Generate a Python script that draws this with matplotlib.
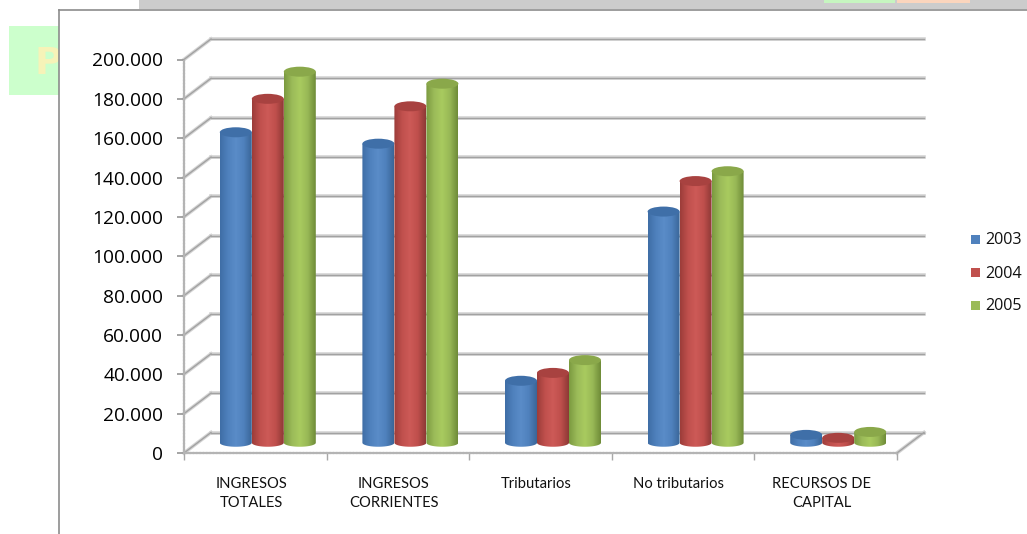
import numpy as np
import matplotlib
matplotlib.use("Agg")
import matplotlib.pyplot as plt
from matplotlib.colors import LinearSegmentedColormap
from matplotlib.patches import Ellipse, PathPatch, Rectangle
from matplotlib.path import Path
from matplotlib.ticker import FuncFormatter

categories = ["INGRESOS\nTOTALES", "INGRESOS\nCORRIENTES", "Tributarios",
              "No tributarios", "RECURSOS DE\nCAPITAL"]
years = ["2003", "2004", "2005"]
values_2003 = [157800, 152000, 31500, 117500, 4000]
values_2004 = [174800, 171000, 35500, 133000, 2500]
values_2005 = [188600, 182500, 42000, 138000, 5500]
y_ticks = list(range(0, 200001, 20000))

W, H = 1027, 534
fig = plt.figure(figsize=(W / 100, H / 100), dpi=100, facecolor="white")
plt.rcParams["font.family"] = ["Open Sans", "DejaVu Sans"]

# page furniture behind the chart frame, in pixels
page = fig.add_axes([0, 0, 1, 1])
page.set_xlim(0, W)
page.set_ylim(H, 0)
page.axis("off")
page.add_patch(Rectangle((139, 0), W - 139, 9, color="#cccccc", lw=0))
page.add_patch(Rectangle((824, 0), 71, 3, color="#c6f5c0", lw=0))
page.add_patch(Rectangle((897, 0), 73, 3, color="#fbd5bd", lw=0))
page.add_patch(Rectangle((9, 26), 50, 69, color="#ccffcc", lw=0))
page.text(34, 64, "P", fontsize=27, fontweight="bold", color="#f6f3b8",
          family="DejaVu Sans", ha="left", va="center", zorder=2)
page.add_patch(Rectangle((59, 9), W - 59, H - 9, color="white", lw=0, zorder=3))
page.plot([59, W], [9.5, 9.5], color="#8c8c8c", lw=1.2, zorder=4)
page.plot([59, 59], [9.5, H], color="#8c8c8c", lw=1.2, zorder=4)

# front plane of the chart: x in category units, y in value units
left, right, base, top = 184, 897, 453, 59.5
ax = fig.add_axes([left / W, 1 - base / H, (right - left) / W, (base - top) / H])
ax.set_xlim(0, 5)
ax.set_ylim(0, 200000)
ax.patch.set_alpha(0)

px_x = 5 / (right - left)
px_y = 200000 / (base - top)
depth_x = 27 * px_x
depth_y = 20.5 * px_y

# back wall, side wall and floor edges: soft grey under a thin darker core
for lw, color in [(2.6, "#d4d4d4"), (1.0, "#a2a2a2")]:
    for v in y_ticks:
        ax.plot([depth_x, 5 + depth_x], [v + depth_y] * 2, color=color, lw=lw,
                clip_on=False, zorder=1)
        ax.plot([0, depth_x], [v, v + depth_y], color=color, lw=lw,
                clip_on=False, zorder=1)
    ax.plot([5, 5 + depth_x], [0, depth_y], color=color, lw=lw, clip_on=False, zorder=1)

for s in ["top", "right"]:
    ax.spines[s].set_visible(False)
for s in ["left", "bottom"]:
    ax.spines[s].set_color("#b4b4b4")
    ax.spines[s].set_linewidth(1.6)
    ax.spines[s].set_linestyle((0, (1, 0.5)))

ax.set_yticks(y_ticks)
ax.yaxis.set_major_formatter(FuncFormatter(lambda v, _: f"{int(v):,}".replace(",", ".")))
ax.tick_params(axis="y", length=5, width=1.1, color="#8c8c8c", pad=10,
               labelsize=13.8, labelcolor="#000000")
ax.set_xticks(range(6))
ax.set_xticklabels([])
ax.set_xticks([i + 0.47 for i in range(5)], labels=categories, minor=True)
ax.tick_params(axis="x", which="major", length=5, width=1, color="#a8a8a8")
ax.tick_params(axis="x", which="minor", length=0, pad=17, labelsize=10.6, labelcolor="#111111")
for label in ax.get_xticklabels(minor=True):
    label.set_family("Lato")
    label.set_linespacing(1.45)

# cylinders: left edge to right edge shading, then the top cap colour
styles = [
    (["#3f6ea6", "#4f81bd", "#5a8cc8", "#4f81bd", "#3a6698"], "#3f6fa8"),
    (["#9c3d3a", "#c0504d", "#cd5a57", "#bf4f4c", "#8e3936"], "#a84240"),
    (["#7b9a40", "#9bbb59", "#a9cb5f", "#98b856", "#6f8c38"], "#8aa84a"),
]
bar_w = 32 * px_x
cap_h = 5 * px_y
theta = np.linspace(np.pi, 2 * np.pi, 40)

for j, vals in enumerate([values_2003, values_2004, values_2005]):
    cmap = LinearSegmentedColormap.from_list(years[j], styles[j][0])
    for i, v in enumerate(vals):
        cx = i + 0.5 + depth_x / 2 + (j - 1) * bar_w - 1 * px_x
        y0 = depth_y / 2
        y1 = y0 + v
        xs = cx + bar_w / 2 * np.cos(theta)
        ys = y0 + 0.8 * cap_h * np.sin(theta)
        verts = np.column_stack([np.r_[xs, cx + bar_w / 2, cx - bar_w / 2],
                                 np.r_[ys, y1, y1]])
        body = PathPatch(Path(np.vstack([verts, verts[0]]), closed=True),
                         fc="none", ec="none", transform=ax.transData)
        ax.add_patch(body)
        im = ax.imshow(np.linspace(0, 1, 64).reshape(1, -1), cmap=cmap, aspect="auto",
                       extent=[cx - bar_w / 2, cx + bar_w / 2, y0 - cap_h, y1],
                       zorder=3 + j * 0.1, clip_on=True)
        im.set_clip_path(body)
        ax.add_patch(Ellipse((cx, y1), bar_w, 2 * cap_h, fc=styles[j][1], ec="none",
                             clip_on=False, zorder=3.05 + j * 0.1))
ax.set_xlim(0, 5)
ax.set_ylim(0, 200000)

# legend drawn by hand so the swatches sit at the right of the frame
swatches = ["#4f81bd", "#c0504d", "#9bbb59"]
for year, color, y in zip(years, swatches, [239, 272, 305]):
    page.add_patch(Rectangle((971, y - 4.5), 9, 9, color=color, lw=0, zorder=5))
    page.text(985, y + 1.5, year, fontsize=11.6, color="#111111", va="center", ha="left", zorder=5)

fig.savefig("out.png", dpi=100)
